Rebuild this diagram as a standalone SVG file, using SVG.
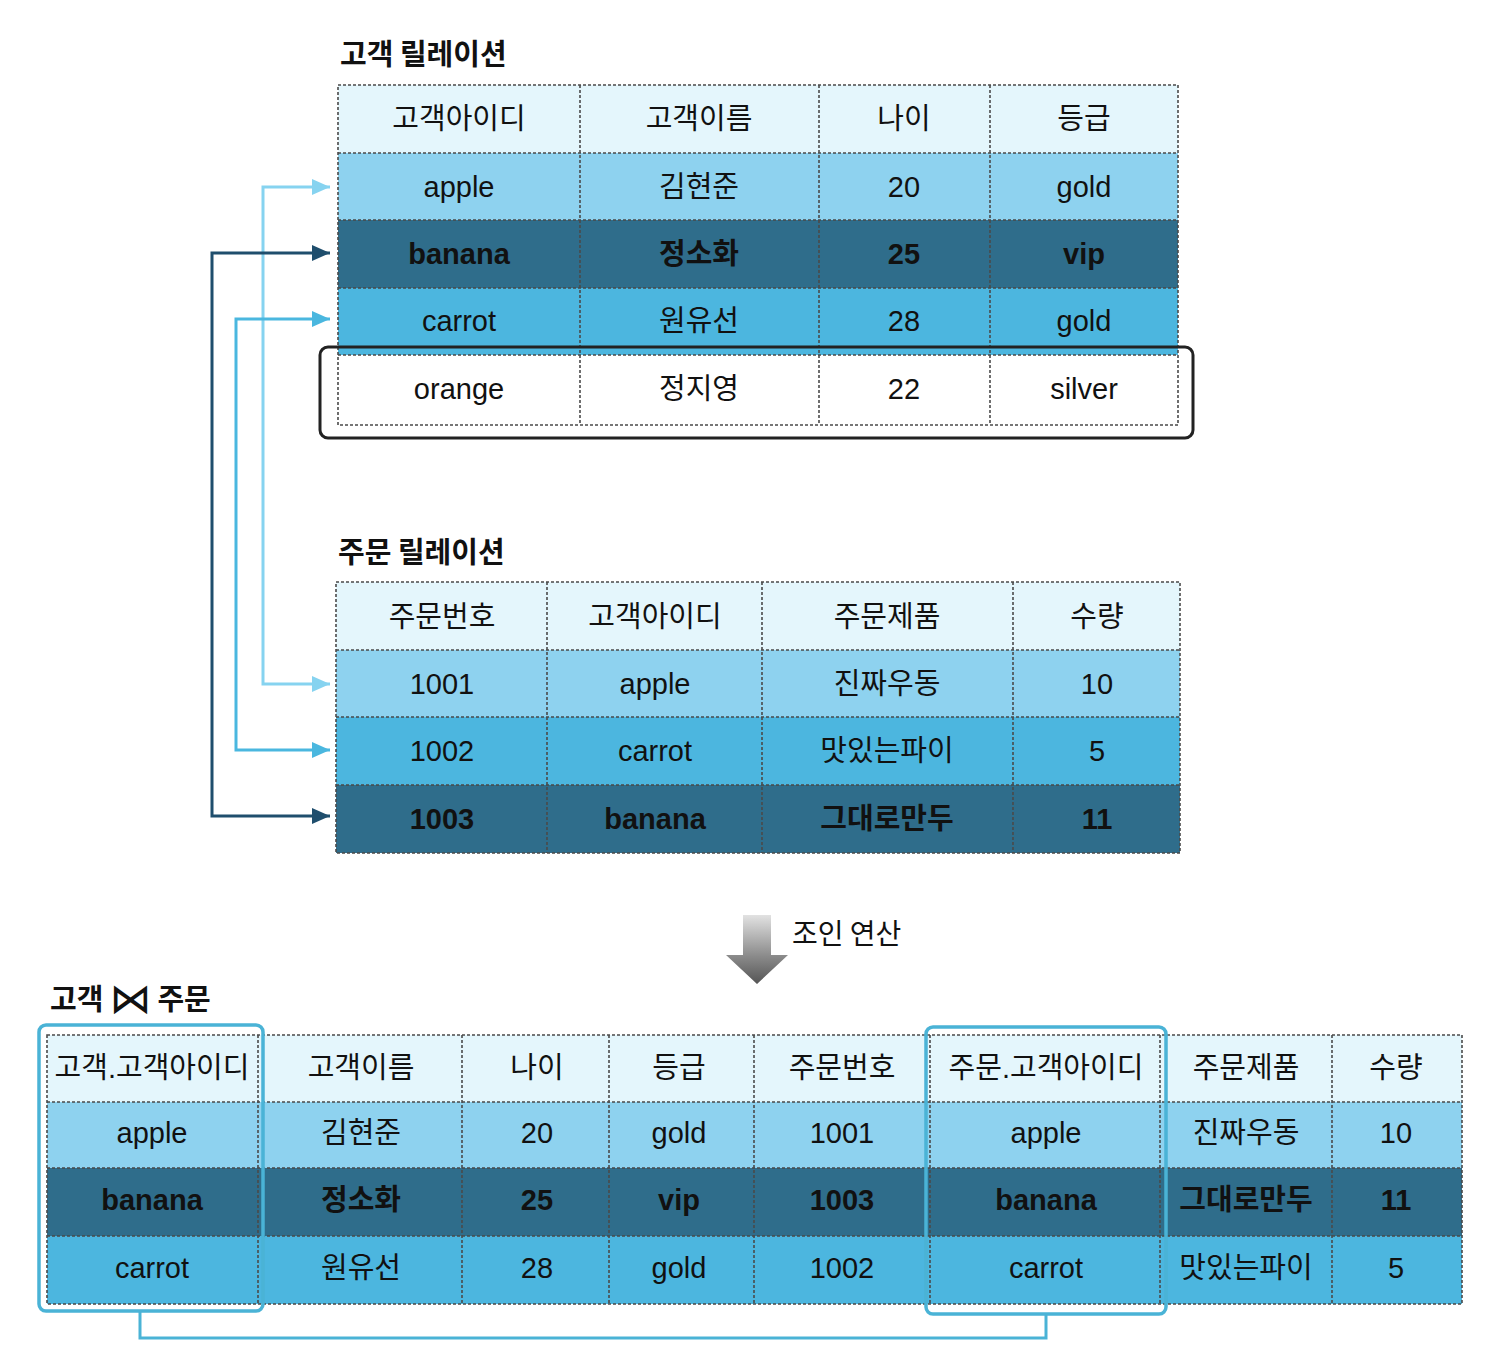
<svg xmlns="http://www.w3.org/2000/svg" width="1500" height="1354" viewBox="0 0 1500 1354">
<style>
.t{font-family:"Liberation Sans","Noto Sans CJK KR",sans-serif;font-size:29px;fill:#111;text-anchor:middle;dominant-baseline:central}
.b{font-weight:bold}
.title{font-family:"Noto Sans CJK KR","Liberation Sans",sans-serif;font-size:29px;font-weight:bold;fill:#111}
.hd{fill:#e4f6fc}
.r1{fill:#8ed2ef}
.r2{fill:#2f6d8b}
.r3{fill:#4cb6df}
.w{fill:#ffffff}
.grid{stroke:#4a4a4a;stroke-width:1.6;stroke-dasharray:3 2;fill:none}
.hl{fill:none;stroke:#4ab3d6;stroke-width:3.5}
</style>
<defs>
<marker id="aL" markerUnits="userSpaceOnUse" markerWidth="20" markerHeight="20" refX="18" refY="10" orient="auto-start-reverse"><path d="M0,2 L18,10 L0,18 Z" fill="#86d3f0"/></marker>
<marker id="aM" markerUnits="userSpaceOnUse" markerWidth="20" markerHeight="20" refX="18" refY="10" orient="auto-start-reverse"><path d="M0,2 L18,10 L0,18 Z" fill="#4ab7df"/></marker>
<marker id="aD" markerUnits="userSpaceOnUse" markerWidth="20" markerHeight="20" refX="18" refY="10" orient="auto-start-reverse"><path d="M0,2 L18,10 L0,18 Z" fill="#1f4e6d"/></marker>
<linearGradient id="gray" x1="0" y1="0" x2="0" y2="1"><stop offset="0" stop-color="#e2e2e2"/><stop offset="0.6" stop-color="#8a8a8a"/><stop offset="1" stop-color="#555"/></linearGradient>
</defs>

<g id="customer-table">
<text class="title" x="340" y="65">고객 릴레이션</text>
<rect class="hd" x="338" y="85" width="840" height="68"/>
<rect class="r1" x="338" y="153" width="840" height="67"/>
<rect class="r2" x="338" y="220" width="840" height="68"/>
<rect class="r3" x="338" y="288" width="840" height="67"/>
<rect class="w" x="338" y="355" width="840" height="70"/>
<path class="grid" d="M338,85H1178V425H338Z M338,153H1178 M338,220H1178 M338,288H1178 M338,355H1178 M580,85V425 M819,85V425 M990,85V425"/>
<text class="t" x="459" y="119">고객아이디</text><text class="t" x="699" y="119">고객이름</text><text class="t" x="904" y="119">나이</text><text class="t" x="1084" y="119">등급</text>
<text class="t" x="459" y="187">apple</text><text class="t" x="699" y="187">김현준</text><text class="t" x="904" y="187">20</text><text class="t" x="1084" y="187">gold</text>
<text class="t b" x="459" y="254">banana</text><text class="t b" x="699" y="254">정소화</text><text class="t b" x="904" y="254">25</text><text class="t b" x="1084" y="254">vip</text>
<text class="t" x="459" y="321">carrot</text><text class="t" x="699" y="321">원유선</text><text class="t" x="904" y="321">28</text><text class="t" x="1084" y="321">gold</text>
<text class="t" x="459" y="389">orange</text><text class="t" x="699" y="389">정지영</text><text class="t" x="904" y="389">22</text><text class="t" x="1084" y="389">silver</text>
<rect x="320" y="347" width="873" height="91" rx="8" fill="none" stroke="#222" stroke-width="3"/>
</g>

<g id="order-table">
<text class="title" x="338" y="563">주문 릴레이션</text>
<rect class="hd" x="336" y="582" width="844" height="68"/>
<rect class="r1" x="336" y="650" width="844" height="67"/>
<rect class="r3" x="336" y="717" width="844" height="68"/>
<rect class="r2" x="336" y="785" width="844" height="68"/>
<path class="grid" d="M336,582H1180V853H336Z M336,650H1180 M336,717H1180 M336,785H1180 M547,582V853 M762,582V853 M1013,582V853"/>
<text class="t" x="442" y="617">주문번호</text><text class="t" x="655" y="617">고객아이디</text><text class="t" x="887" y="617">주문제품</text><text class="t" x="1097" y="617">수량</text>
<text class="t" x="442" y="684">1001</text><text class="t" x="655" y="684">apple</text><text class="t" x="887" y="684">진짜우동</text><text class="t" x="1097" y="684">10</text>
<text class="t" x="442" y="751">1002</text><text class="t" x="655" y="751">carrot</text><text class="t" x="887" y="751">맛있는파이</text><text class="t" x="1097" y="751">5</text>
<text class="t b" x="442" y="819">1003</text><text class="t b" x="655" y="819">banana</text><text class="t b" x="887" y="819">그대로만두</text><text class="t b" x="1097" y="819">11</text>
</g>

<g id="connectors" fill="none" stroke-width="3">
<path d="M330,187 H263 V684 H330" stroke="#86d3f0" marker-start="url(#aL)" marker-end="url(#aL)"/>
<path d="M330,319 H236 V750 H330" stroke="#4ab7df" marker-start="url(#aM)" marker-end="url(#aM)"/>
<path d="M330,253 H212 V816 H330" stroke="#1f4e6d" marker-start="url(#aD)" marker-end="url(#aD)"/>
<path d="M140,1311 V1338 H1046 V1314" stroke="#4ab3d6"/>
</g>

<g id="join-op">
<path d="M743,915 H771 V955 H788 L757,984 L726,955 H743 Z" fill="url(#gray)"/>
<text x="792" y="944" font-family="Noto Sans CJK KR, sans-serif" font-size="28" fill="#111">조인 연산</text>
</g>

<g id="join-table">
<text x="50" y="1010" fill="#111"><tspan class="title">고객</tspan><tspan font-family="DejaVu Sans, sans-serif" font-weight="normal" font-size="42" dx="6" dy="3">⋈</tspan><tspan class="title" dx="6" dy="-3">주문</tspan></text>
<rect class="hd" x="47" y="1035" width="1415" height="67"/>
<rect class="r1" x="47" y="1102" width="1415" height="66"/>
<rect class="r2" x="47" y="1168" width="1415" height="68"/>
<rect class="r3" x="47" y="1236" width="1415" height="68"/>
<path class="grid" d="M47,1035H1462V1304H47Z M47,1102H1462 M47,1168H1462 M47,1236H1462 M258,1035V1304 M462,1035V1304 M609,1035V1304 M754,1035V1304 M930,1035V1304 M1160,1035V1304 M1332,1035V1304"/>
<text class="t" x="152" y="1068">고객.고객아이디</text><text class="t" x="361" y="1068">고객이름</text><text class="t" x="537" y="1068">나이</text><text class="t" x="679" y="1068">등급</text><text class="t" x="842" y="1068">주문번호</text><text class="t" x="1046" y="1068">주문.고객아이디</text><text class="t" x="1246" y="1068">주문제품</text><text class="t" x="1396" y="1068">수량</text>
<text class="t" x="152" y="1133">apple</text><text class="t" x="361" y="1133">김현준</text><text class="t" x="537" y="1133">20</text><text class="t" x="679" y="1133">gold</text><text class="t" x="842" y="1133">1001</text><text class="t" x="1046" y="1133">apple</text><text class="t" x="1246" y="1133">진짜우동</text><text class="t" x="1396" y="1133">10</text>
<text class="t b" x="152" y="1200">banana</text><text class="t b" x="361" y="1200">정소화</text><text class="t b" x="537" y="1200">25</text><text class="t b" x="679" y="1200">vip</text><text class="t b" x="842" y="1200">1003</text><text class="t b" x="1046" y="1200">banana</text><text class="t b" x="1246" y="1200">그대로만두</text><text class="t b" x="1396" y="1200">11</text>
<text class="t" x="152" y="1268">carrot</text><text class="t" x="361" y="1268">원유선</text><text class="t" x="537" y="1268">28</text><text class="t" x="679" y="1268">gold</text><text class="t" x="842" y="1268">1002</text><text class="t" x="1046" y="1268">carrot</text><text class="t" x="1246" y="1268">맛있는파이</text><text class="t" x="1396" y="1268">5</text>
<rect class="hl" x="39" y="1025" width="224" height="286" rx="7"/>
<rect class="hl" x="926" y="1027" width="240" height="287" rx="7"/>
</g>
</svg>
